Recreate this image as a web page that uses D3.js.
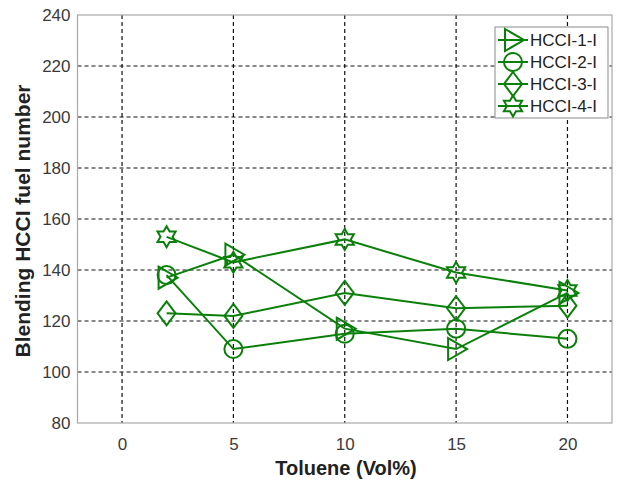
<!DOCTYPE html>
<html>
<head>
<meta charset="utf-8">
<script src="https://cdn.jsdelivr.net/npm/d3@7"></script>
<style>
  html, body { margin: 0; padding: 0; background: #fff; }
  svg { display: block; font-family: "Liberation Sans", Arial, Helvetica, sans-serif; }
</style>
</head>
<body>
<svg id="chart" width="620" height="483"></svg>
<script>
// Toluene content (Vol%) for each measurement
const toluene = [2, 5, 10, 15, 20];

// Blending HCCI fuel number per series
const seriesNames = ["HCCI-1-I", "HCCI-2-I", "HCCI-3-I", "HCCI-4-I"];
const hcci1 = [137, 146, 117, 109, 131];
const hcci2 = [138, 109, 115, 117, 113];
const hcci3 = [123, 122, 131, 125, 126];
const hcci4 = [153, 143, 152, 139, 132];
const markerKinds = ["triangleRight", "circle", "diamond", "hexagram"];

const xTicks = [0, 5, 10, 15, 20];
const yTicks = [80, 100, 120, 140, 160, 180, 200, 220, 240];

const green = "#0a800a";
const svg = d3.select("#chart");

const plotL = 77.5, plotR = 612, plotT = 15, plotB = 423;
const x = d3.scaleLinear().domain([-2, 22]).range([plotL, plotR]);
const y = d3.scaleLinear().domain([80, 240]).range([plotB, plotT]);

// dashed grid
const grid = svg.append("g").attr("stroke", "#111").attr("stroke-width", 1.2)
  .attr("stroke-dasharray", "4,3");
grid.selectAll("line.v").data(xTicks).join("line").attr("class", "v")
  .attr("x1", d => x(d)).attr("x2", d => x(d))
  .attr("y1", plotT).attr("y2", plotB);
grid.selectAll("line.h").data(yTicks.filter(d => d > 80 && d < 240)).join("line").attr("class", "h")
  .attr("x1", plotL).attr("x2", plotR)
  .attr("y1", d => y(d)).attr("y2", d => y(d));

// axes box
svg.append("rect").attr("x", plotL).attr("y", plotT)
  .attr("width", plotR - plotL).attr("height", plotB - plotT)
  .attr("fill", "none").attr("stroke", "#a8a8a8").attr("stroke-width", 1.2);

// tick labels via d3 axes
const xAxis = svg.append("g").attr("transform", `translate(0,${plotB})`)
  .call(d3.axisBottom(x).tickValues(xTicks).tickSize(0).tickPadding(15));
const yAxis = svg.append("g").attr("transform", `translate(${plotL},0)`)
  .call(d3.axisLeft(y).tickValues(yTicks).tickSize(0).tickPadding(7));
[xAxis, yAxis].forEach(a => {
  a.select(".domain").remove();
  a.selectAll("text").attr("font-size", 17).attr("fill", "#3a3a3a")
    .attr("font-family", "'Liberation Sans', Arial, sans-serif");
});

// axis titles
svg.append("text").attr("x", 346).attr("y", 475)
  .attr("text-anchor", "middle").attr("font-size", 20).attr("font-weight", "bold")
  .attr("fill", "#222").text("Toluene (Vol%)");
svg.append("text")
  .attr("transform", "translate(30,221) rotate(-90)")
  .attr("text-anchor", "middle").attr("font-size", 21).attr("font-weight", "bold")
  .attr("fill", "#222").text("Blending HCCI fuel number");

// marker shapes
function markerPath(kind) {
  if (kind === "circle") {
    return d3.symbol(d3.symbolCircle, Math.PI * 9 * 9)();
  }
  if (kind === "triangleRight") {
    return "M-8,-11L11,0L-8,11Z";
  }
  if (kind === "diamond") {
    return "M0,-12L9,0L0,12L-9,0Z";
  }
  // six-pointed star
  const R = 10.5, r = R / Math.sqrt(3);
  const pts = d3.range(12).map(i => {
    const a = -Math.PI / 2 + i * Math.PI / 6;
    const rad = i % 2 === 0 ? R : r;
    return [rad * Math.cos(a), rad * Math.sin(a)];
  });
  return "M" + pts.map(p => p.join(",")).join("L") + "Z";
}

const allSeries = [hcci1, hcci2, hcci3, hcci4];
const line = d3.line().x((d, i) => x(toluene[i])).y(d => y(d));

allSeries.forEach((vals, si) => {
  const g = svg.append("g");
  g.append("path").datum(vals).attr("d", line)
    .attr("fill", "none").attr("stroke", green).attr("stroke-width", 2);
  g.selectAll("path.m").data(vals).join("path").attr("class", "m")
    .attr("d", markerPath(markerKinds[si]))
    .attr("transform", (d, i) => `translate(${x(toluene[i])},${y(d)})`)
    .attr("fill", "none").attr("stroke", green).attr("stroke-width", 2);
});

// legend
const lg = svg.append("g").attr("transform", "translate(495,27)");
lg.append("rect").attr("width", 113).attr("height", 91)
  .attr("fill", "#fff").attr("stroke", "#8a8a8a").attr("stroke-width", 1);
seriesNames.forEach((name, i) => {
  const cy = 13 + i * 22;
  lg.append("line").attr("x1", 3).attr("x2", 33).attr("y1", cy).attr("y2", cy)
    .attr("stroke", green).attr("stroke-width", 2);
  lg.append("path").attr("d", markerPath(markerKinds[i]))
    .attr("transform", `translate(18,${cy})`)
    .attr("fill", "none").attr("stroke", green).attr("stroke-width", 2);
  lg.append("text").attr("x", 35).attr("y", cy + 6).attr("font-size", 17)
    .attr("fill", "#222").text(name);
});
</script>
</body>
</html>
